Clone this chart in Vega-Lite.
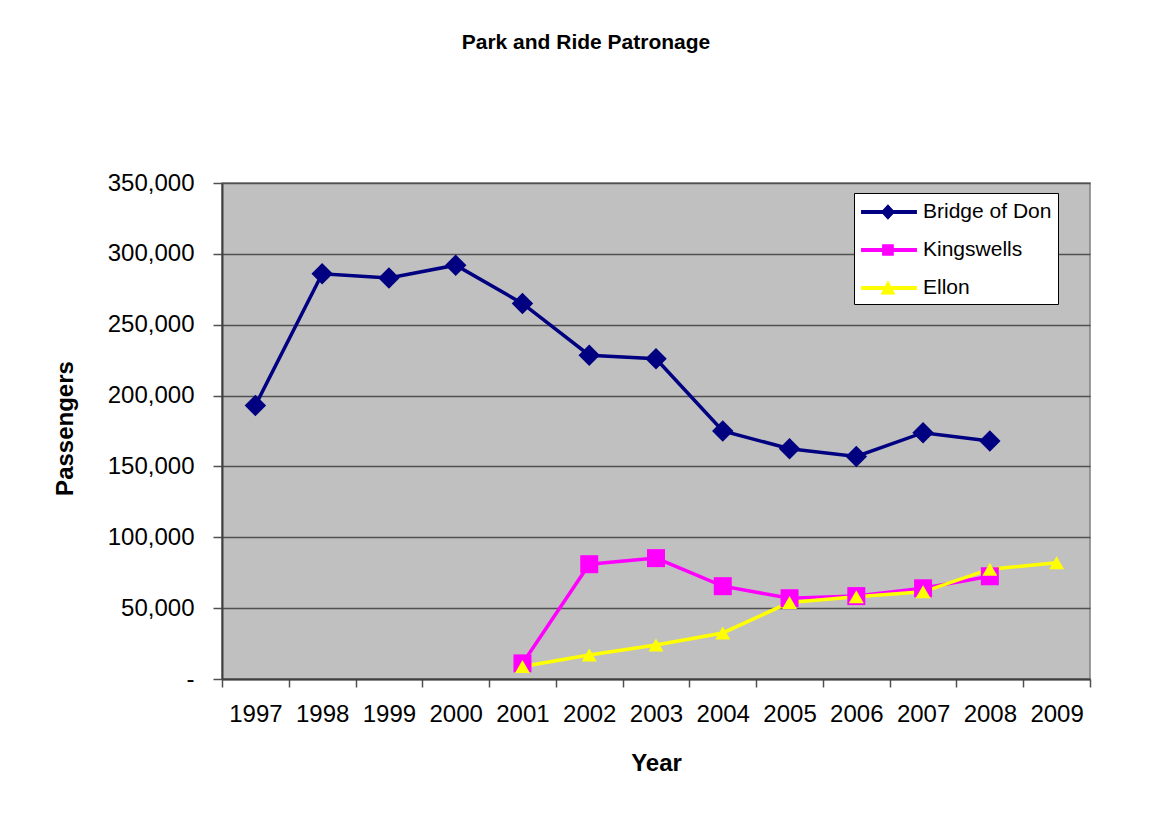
{
  "$schema": "https://vega.github.io/schema/vega-lite/v6.json",
  "autosize": "none",
  "width": 868,
  "height": 496,
  "padding": {"left": 222, "top": 183, "right": 70, "bottom": 141},
  "background": "white",
  "title": {
    "text": "Park and Ride Patronage",
    "font": "Liberation Sans",
    "fontSize": 21,
    "fontWeight": "bold",
    "color": "black",
    "anchor": "middle",
    "frame": "group",
    "dx": -70,
    "offset": 118
  },
  "config": {
    "font": "Liberation Sans",
    "view": {"fill": "#C0C0C0", "stroke": "#808080", "strokeWidth": 1.5}
  },
  "data": {
    "values": [
      {"year": "1997", "series": "Bridge of Don", "passengers": 193000},
      {"year": "1998", "series": "Bridge of Don", "passengers": 286000},
      {"year": "1999", "series": "Bridge of Don", "passengers": 283000},
      {"year": "2000", "series": "Bridge of Don", "passengers": 292000},
      {"year": "2001", "series": "Bridge of Don", "passengers": 265000},
      {"year": "2002", "series": "Bridge of Don", "passengers": 228500},
      {"year": "2003", "series": "Bridge of Don", "passengers": 226000},
      {"year": "2004", "series": "Bridge of Don", "passengers": 175000},
      {"year": "2005", "series": "Bridge of Don", "passengers": 162500},
      {"year": "2006", "series": "Bridge of Don", "passengers": 157000},
      {"year": "2007", "series": "Bridge of Don", "passengers": 173800},
      {"year": "2008", "series": "Bridge of Don", "passengers": 168000},
      {"year": "2001", "series": "Kingswells", "passengers": 11000},
      {"year": "2002", "series": "Kingswells", "passengers": 81000},
      {"year": "2003", "series": "Kingswells", "passengers": 85300},
      {"year": "2004", "series": "Kingswells", "passengers": 65500},
      {"year": "2005", "series": "Kingswells", "passengers": 57000},
      {"year": "2006", "series": "Kingswells", "passengers": 58500},
      {"year": "2007", "series": "Kingswells", "passengers": 64000},
      {"year": "2008", "series": "Kingswells", "passengers": 72500},
      {"year": "2001", "series": "Ellon", "passengers": 8800},
      {"year": "2002", "series": "Ellon", "passengers": 17000},
      {"year": "2003", "series": "Ellon", "passengers": 24000},
      {"year": "2004", "series": "Ellon", "passengers": 32500},
      {"year": "2005", "series": "Ellon", "passengers": 54000},
      {"year": "2006", "series": "Ellon", "passengers": 58000},
      {"year": "2007", "series": "Ellon", "passengers": 61500},
      {"year": "2008", "series": "Ellon", "passengers": 77500},
      {"year": "2009", "series": "Ellon", "passengers": 82000}
    ]
  },
  "encoding": {
    "x": {
      "field": "year",
      "type": "ordinal",
      "title": "Year",
      "scale": {"type": "band", "paddingInner": 0, "paddingOuter": 0},
      "axis": {
        "labelAngle": 0,
        "labelFontSize": 24,
        "labelColor": "black",
        "labelPadding": 15,
        "tickBand": "extent",
        "tickSize": 8,
        "tickColor": "#505050",
        "tickWidth": 1.5,
        "domainColor": "#404040",
        "domainWidth": 2,
        "grid": false,
        "titleFontSize": 24,
        "titleFontWeight": "bold",
        "titleColor": "black",
        "titleBaseline": "alphabetic",
        "titleY": 91
      }
    },
    "y": {
      "field": "passengers",
      "type": "quantitative",
      "title": "Passengers",
      "scale": {"domain": [0, 350000], "nice": false},
      "axis": {
        "values": [0, 50000, 100000, 150000, 200000, 250000, 300000, 350000],
        "labelExpr": "datum.value === 0 ? '-' : format(datum.value, ',')",
        "labelFontSize": 24,
        "labelColor": "black",
        "labelPadding": 19,
        "tickSize": 9,
        "tickColor": "#505050",
        "tickWidth": 1.5,
        "domainColor": "#404040",
        "domainWidth": 2,
        "grid": true,
        "gridColor": "#505050",
        "gridWidth": 1.5,
        "titleFontSize": 24,
        "titleFontWeight": "bold",
        "titleColor": "black",
        "titleAngle": -90,
        "titleBaseline": "middle",
        "titleX": -157,
        "titleY": 245
      }
    },
    "color": {
      "field": "series",
      "type": "nominal",
      "scale": {
        "domain": ["Bridge of Don", "Kingswells", "Ellon"],
        "range": ["#000080", "#FF00FF", "#FFFF00"]
      },
      "legend": {
        "title": null,
        "orient": "none",
        "legendX": 632,
        "legendY": 10,
        "fillColor": "white",
        "strokeColor": "black",
        "padding": 6,
        "rowPadding": 15,
        "labelFontSize": 21,
        "labelColor": "black",
        "labelOffset": 37,
        "labelLimit": 0,
        "symbolSize": 676,
        "symbolStrokeWidth": 0,
        "encode": {
          "symbols": {
            "update": {
              "shape": {"signal": "datum.value === 'Bridge of Don' ? 'M-0.92,-0.15H3.38V0.15H-0.92Z M1.15,-0.6L1.7,0L1.15,0.6L0.6,0Z' : datum.value === 'Kingswells' ? 'M-0.92,-0.15H3.38V0.15H-0.92Z M0.7,-0.45H1.6V0.45H0.7Z' : 'M-0.92,-0.15H3.38V0.15H-0.92Z M1.15,-0.6L1.72,0.5H0.58Z'"},
              "fill": {"signal": "scale('color', datum.value)"},
              "strokeWidth": {"value": 0},
              "opacity": {"value": 1}
            }
          }
        }
      }
    }
  },
  "layer": [
    {
      "mark": {"type": "line", "strokeWidth": 3.5},
      "encoding": {}
    },
    {
      "transform": [{"filter": "datum.series === 'Bridge of Don'"}],
      "mark": {"type": "point", "filled": true, "opacity": 1, "shape": "diamond", "size": 460},
      "encoding": {}
    },
    {
      "transform": [{"filter": "datum.series === 'Kingswells'"}],
      "mark": {"type": "point", "filled": true, "opacity": 1, "shape": "square", "size": 324},
      "encoding": {}
    },
    {
      "transform": [{"filter": "datum.series === 'Ellon'"}],
      "mark": {"type": "point", "filled": true, "opacity": 1, "shape": "triangle-up", "size": 225},
      "encoding": {}
    }
  ]
}
